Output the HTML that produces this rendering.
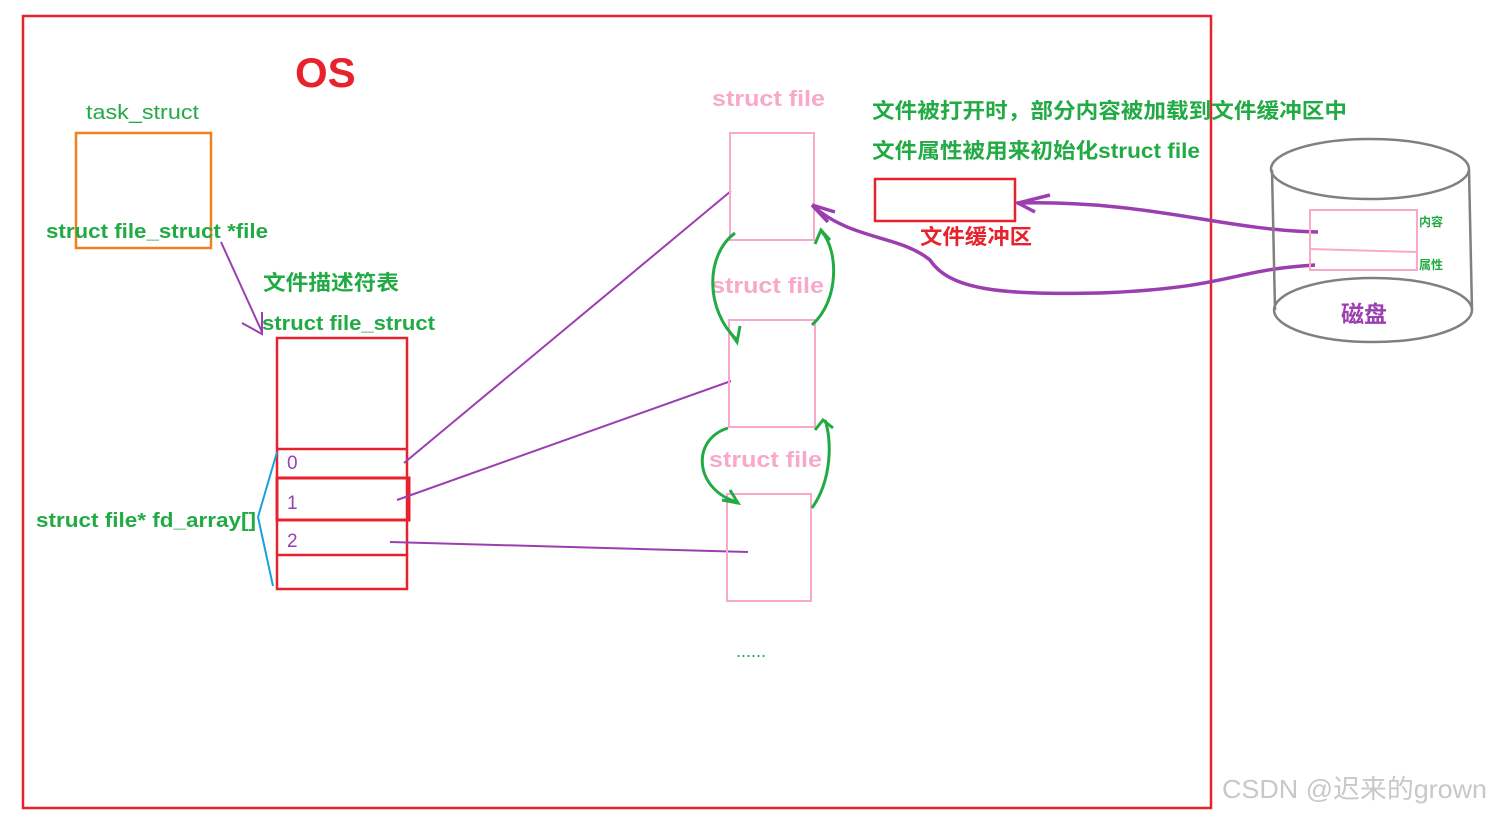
<!DOCTYPE html>
<html><head><meta charset="utf-8"><style>
body{margin:0;background:#fff;width:1491px;height:815px;overflow:hidden}
text{font-family:"Liberation Sans","Noto Sans CJK SC",sans-serif}
</style></head><body>
<svg width="1491" height="815" xmlns="http://www.w3.org/2000/svg">
<rect x="23" y="16" width="1188" height="792" fill="none" stroke="#e8222c" stroke-width="2.5"/>
<text x="295" y="87" font-size="42" font-weight="bold" fill="#e8222c">OS</text>
<text x="86" y="119" font-size="20" fill="#22aa44" textLength="113" lengthAdjust="spacingAndGlyphs">task_struct</text>
<rect x="76" y="133" width="135" height="115" fill="none" stroke="#f08020" stroke-width="2.5"/>
<text x="46" y="238" font-size="20" font-weight="bold" fill="#22aa44" textLength="222" lengthAdjust="spacingAndGlyphs">struct file_struct *file</text>
<path d="M221 242 L262 332 M242 323 L262 334 L262 312" fill="none" stroke="#9b3fb0" stroke-width="2"/>
<text x="263" y="290" font-size="21" font-weight="bold" fill="#22aa44" textLength="136" lengthAdjust="spacingAndGlyphs">文件描述符表</text>
<text x="262" y="330" font-size="20" font-weight="bold" fill="#22aa44" textLength="173" lengthAdjust="spacingAndGlyphs">struct file_struct</text>
<g fill="none" stroke="#e8222c" stroke-width="2.5">
<rect x="277" y="338" width="130" height="251"/>
<line x1="277" y1="449" x2="407" y2="449"/>
<rect x="277" y="478" width="132" height="42" stroke-width="3"/>
<line x1="277" y1="555" x2="407" y2="555"/>
</g>
<text x="287" y="469" font-size="19" fill="#9b3fb0">0</text>
<text x="287" y="509" font-size="19" fill="#9b3fb0">1</text>
<text x="287" y="547" font-size="19" fill="#9b3fb0">2</text>
<path d="M277 452 L258 517 L273 586" fill="none" stroke="#1aa0e0" stroke-width="2"/>
<text x="36" y="527" font-size="20" font-weight="bold" fill="#22aa44" textLength="220" lengthAdjust="spacingAndGlyphs">struct file* fd_array[]</text>
<g stroke="#9b3fb0" stroke-width="2" fill="none">
<line x1="404" y1="463" x2="731" y2="191"/>
<line x1="397" y1="500" x2="731" y2="381"/>
<line x1="390" y1="542" x2="748" y2="552"/>
</g>
<g fill="none" stroke="#f8a8c8" stroke-width="2">
<rect x="730" y="133" width="84" height="107"/>
<rect x="729" y="320" width="86" height="107"/>
<rect x="727" y="494" width="84" height="107"/>
</g>
<text x="712" y="106" font-size="22" font-weight="bold" fill="#f8a8c8" textLength="113" lengthAdjust="spacingAndGlyphs">struct file</text>
<text x="711" y="293" font-size="22" font-weight="bold" fill="#f8a8c8" textLength="113" lengthAdjust="spacingAndGlyphs">struct file</text>
<text x="709" y="467" font-size="22" font-weight="bold" fill="#f8a8c8" textLength="113" lengthAdjust="spacingAndGlyphs">struct file</text>
<g fill="none" stroke="#22aa44" stroke-width="3">
<path d="M735 233 C705 255 705 310 737 340"/><path d="M727 328 L737 342 L740 326"/>
<path d="M812 325 C840 300 838 250 822 232"/><path d="M815 244 L821 230 L830 240"/>
<path d="M728 428 C690 440 695 490 737 502"/><path d="M722 500 L738 503 L730 490"/>
<path d="M812 508 C832 480 832 440 825 420"/><path d="M815 430 L823 420 L833 428"/>
</g>
<text x="736" y="657" font-size="18" fill="#22aa44">......</text>
<text x="872" y="118" font-size="21" font-weight="bold" fill="#22aa44" textLength="475" lengthAdjust="spacingAndGlyphs">文件被打开时，部分内容被加载到文件缓冲区中</text>
<text x="872" y="158" font-size="21" font-weight="bold" fill="#22aa44" textLength="328" lengthAdjust="spacingAndGlyphs">文件属性被用来初始化struct file</text>
<rect x="875" y="179" width="140" height="42" fill="none" stroke="#e8222c" stroke-width="2.5"/>
<text x="920" y="244" font-size="21" font-weight="bold" fill="#e8222c" textLength="112" lengthAdjust="spacingAndGlyphs">文件缓冲区</text>
<g fill="none" stroke="#9b3fb0" stroke-width="3.5">
<path d="M1318 232 C1220 230 1150 200 1017 203"/><path d="M1050 195 L1018 203 L1035 212"/>
<path d="M1315 265 C1230 270 1230 288 1100 293 C1000 295 950 290 930 260 C900 235 850 240 812 205"/><path d="M812 205 L835 212 M812 205 L828 222"/>
</g>
<g fill="none" stroke="#808080" stroke-width="2.5">
<ellipse cx="1370" cy="169" rx="99" ry="30"/>
<ellipse cx="1373" cy="310" rx="99" ry="32"/>
<line x1="1272" y1="170" x2="1275" y2="310"/>
<line x1="1469" y1="170" x2="1472" y2="310"/>
</g>
<rect x="1310" y="210" width="107" height="60" fill="none" stroke="#f8a8c8" stroke-width="2"/>
<line x1="1310" y1="249" x2="1417" y2="252" stroke="#f8a8c8" stroke-width="2"/>
<text x="1419" y="226" font-size="12" font-weight="bold" fill="#22aa44">内容</text>
<text x="1419" y="269" font-size="12" font-weight="bold" fill="#22aa44">属性</text>
<text x="1341" y="322" font-size="23" font-weight="bold" fill="#9b3fb0">磁盘</text>
<text x="1222" y="798" font-size="26" fill="#c8c8c8" textLength="265" lengthAdjust="spacingAndGlyphs">CSDN @迟来的grown</text>
</svg>
</body></html>
